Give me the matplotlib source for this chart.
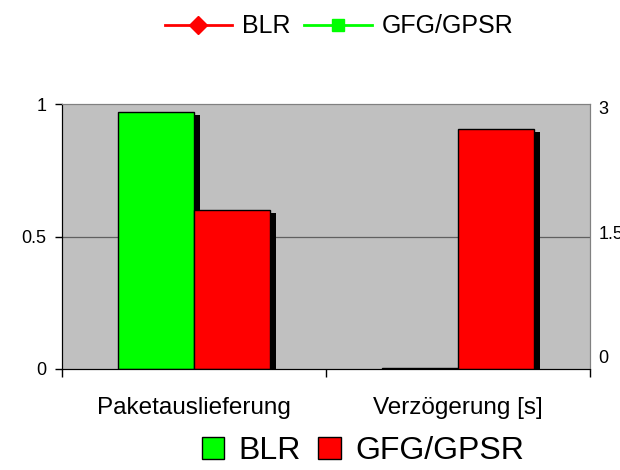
import matplotlib
matplotlib.use("Agg")
import matplotlib.pyplot as plt
import matplotlib.patheffects as pe
import matplotlib.transforms as mtransforms
from matplotlib.lines import Line2D
from matplotlib.patches import Patch

# data
categories = ["Paketauslieferung", "Verzögerung [s]"]
blr = [0.97, 0.01]        # left axis for first group, right axis for second
gfg = [0.60, 2.72]
left_ticks = [0, 0.5, 1]
left_labels = ["0", "0.5", "1"]
right_ticks = [0, 1.5, 3]
right_labels = ["0", "1.5", "3"]

plt.rcParams["font.family"] = ["Liberation Sans", "DejaVu Sans"]

GREEN = "#00FF00"
RED = "#FF0000"
shadow = [pe.SimplePatchShadow(offset=(4.3, -2.2), shadow_rgbFace="black", alpha=1.0),
          pe.Normal()]

fig = plt.figure(figsize=(6.2, 4.7), dpi=100)
ax = fig.add_axes([0.1, 0.2149, 0.8516, 0.5638])
ax2 = ax.twinx()
ax.set_facecolor("#C0C0C0")
ax.set_zorder(0)
ax2.set_zorder(1)
ax2.patch.set_visible(False)

w = 0.288
# first group on left axis
b = ax.bar(0 - w / 2, blr[0], w, color=GREEN, edgecolor="black", linewidth=1)
b[0].set_path_effects(shadow)
b = ax.bar(0 + w / 2, gfg[0], w, color=RED, edgecolor="black", linewidth=1)
b[0].set_path_effects(shadow)
# second group on right axis
b = ax2.bar(1 - w / 2, blr[1], w, color=GREEN, edgecolor="black", linewidth=1)
b[0].set_path_effects(shadow)
b = ax2.bar(1 + w / 2, gfg[1], w, color=RED, edgecolor="black", linewidth=1)
b[0].set_path_effects(shadow)

ax.axhline(0.5, color="#606060", linewidth=0.9, zorder=0.5)

ax.set_xlim(-0.5, 1.5)
ax.set_ylim(0, 1)
ax2.set_ylim(0, 3)

ax.set_yticks(left_ticks)
ax.set_yticklabels(left_labels, fontsize=13)
ax.tick_params(axis="y", direction="out", length=5, width=1, pad=6)
ax2.set_yticks(right_ticks)
ax2.set_yticklabels(right_labels, fontsize=13)
ax2.tick_params(axis="y", length=0, pad=6)
# Excel placed the secondary labels slightly off their gridlines
for lab, dy in zip(ax2.get_yticklabels(), [12, 4, -3]):
    lab.set_transform(lab.get_transform() +
                      mtransforms.ScaledTranslation(0, dy / 100, fig.dpi_scale_trans))

ax.set_xticks([-0.5, 0.5, 1.5])
ax.set_xticklabels([])
ax.set_xticks([0, 1], minor=True)
ax.set_xticklabels(categories, minor=True, fontsize=17.5)
ax.tick_params(axis="x", which="major", direction="out", length=6, width=1)
ax.tick_params(axis="x", which="minor", length=0, pad=20)

for a in (ax, ax2):
    a.spines["top"].set_color("#808080")
    a.spines["right"].set_color("#808080")
    a.spines["left"].set_color("black")
    a.spines["bottom"].set_color("black")

top_handles = [
    Line2D([], [], color=RED, marker="D", markersize=9, linewidth=2),
    Line2D([], [], color=GREEN, marker="s", markersize=9, linewidth=2),
]
fig.legend(top_handles, ["BLR", "GFG/GPSR"], loc="center", bbox_to_anchor=(0.547, 0.944),
           ncol=2, frameon=False, fontsize=18, handlelength=2.7, handletextpad=0.4,
           columnspacing=0.55)

bottom_handles = [
    Patch(facecolor=GREEN, edgecolor="black"),
    Patch(facecolor=RED, edgecolor="black"),
]
fig.legend(bottom_handles, ["BLR", "GFG/GPSR"], loc="center", bbox_to_anchor=(0.585, 0.04),
           ncol=2, frameon=False, fontsize=23, handlelength=0.7, handleheight=0.7,
           handletextpad=0.45, columnspacing=0.55)

fig.savefig("out.png", dpi=100)
